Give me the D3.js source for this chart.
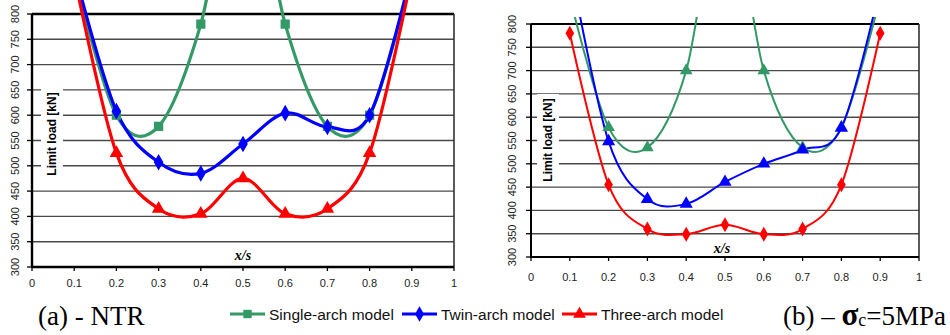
<!DOCTYPE html>
<html>
<head>
<meta charset="utf-8">
<script src="https://cdn.jsdelivr.net/npm/d3@7"></script>
<style>
  body { margin: 0; background: #fff; }
  svg { display: block; }
</style>
</head>
<body>
<svg width="950" height="335"></svg>
<script>
// x positions (x/s) of the computed points
const xs = [0.1, 0.2, 0.3, 0.4, 0.5, 0.6, 0.7, 0.8, 0.9];

// (a) NTR - values above 800 run off the top of the plot
const singleA = [880, 600, 578, 780, 1150, 780, 578, 600, 880];
const twinA   = [886, 608, 507, 485, 543, 604, 577, 600, 886];
const threeA  = [877, 525, 415, 405, 475, 405, 415, 525, 877];

// (b) sigma_c = 5MPa
const singleB = [858, 578, 535, 700, 1100, 700, 535, 578, 858];
const twinB   = [930, 548, 424, 414, 461, 500, 530, 577, 880];
const threeB  = [780, 455, 360, 349, 369, 349, 360, 455, 780];

const xTicks = [0, 0.1, 0.2, 0.3, 0.4, 0.5, 0.6, 0.7, 0.8, 0.9, 1];
const yTicks = [300, 350, 400, 450, 500, 550, 600, 650, 700, 750, 800];
const seriesNames = ["Single-arch model", "Twin-arch model", "Three-arch model"];
const colors = ["#339966", "#0000ff", "#ff0000"];

const svg = d3.select("svg");

function panel(cfg) {
  const x = d3.scaleLinear().domain([0, 1]).range([cfg.left, cfg.right]);
  const y = d3.scaleLinear().domain([300, 800]).range([cfg.bottom, cfg.top]);
  const g = svg.append("g");

  // gridlines
  g.selectAll("line.grid")
    .data(yTicks.slice(1))
    .enter().append("line")
    .attr("x1", cfg.left).attr("x2", cfg.right)
    .attr("y1", d => y(d)).attr("y2", d => y(d))
    .attr("stroke", d => d === 800 ? "#000" : "#4a4a4a")
    .attr("stroke-width", d => d === 800 ? cfg.axisW : 1.4);

  // right border
  g.append("line")
    .attr("x1", cfg.right).attr("x2", cfg.right)
    .attr("y1", cfg.top).attr("y2", cfg.bottom)
    .attr("stroke", "#333").attr("stroke-width", 1.6);

  // axis label with white box
  const lab = g.append("g").attr("transform", `translate(${cfg.labX},${cfg.labY})`);
  lab.append("rect")
    .attr("x", -46).attr("y", -11).attr("width", 92).attr("height", 22)
    .attr("transform", "rotate(-90)")
    .attr("fill", "#fff");
  lab.append("text")
    .attr("transform", "rotate(-90)")
    .attr("text-anchor", "middle")
    .attr("dy", "0.35em")
    .style("font", "bold 12px 'Liberation Sans', Arial, sans-serif")
    .text("Limit load [kN]");

  // axes lines
  g.append("line")
    .attr("x1", cfg.left).attr("x2", cfg.left)
    .attr("y1", cfg.top).attr("y2", cfg.bottom)
    .attr("stroke", "#000").attr("stroke-width", cfg.axisW);
  g.append("line")
    .attr("x1", cfg.left - 1).attr("x2", cfg.right)
    .attr("y1", cfg.bottom).attr("y2", cfg.bottom)
    .attr("stroke", "#000").attr("stroke-width", cfg.axisW);

  // y ticks
  g.selectAll("line.yt")
    .data(yTicks)
    .enter().append("line")
    .attr("x1", cfg.left - 5).attr("x2", cfg.left)
    .attr("y1", d => y(d)).attr("y2", d => y(d))
    .attr("stroke", "#000").attr("stroke-width", 1.3);
  g.selectAll("text.yl")
    .data(yTicks)
    .enter().append("text")
    .attr("transform", d => `translate(${cfg.yLabX},${y(d)}) rotate(-90)`)
    .attr("text-anchor", "middle")
    .attr("dy", "0.35em")
    .style("font", "11px 'Liberation Sans', Arial, sans-serif")
    .attr("fill", "#222")
    .text(d => d);

  // x ticks
  g.selectAll("line.xt")
    .data(xTicks)
    .enter().append("line")
    .attr("x1", d => x(d)).attr("x2", d => x(d))
    .attr("y1", cfg.bottom).attr("y2", cfg.bottom + 4)
    .attr("stroke", "#000").attr("stroke-width", 1.3);
  g.selectAll("text.xl")
    .data(xTicks)
    .enter().append("text")
    .attr("x", d => x(d))
    .attr("y", cfg.xLabY)
    .attr("text-anchor", "middle")
    .style("font", "11px 'Liberation Sans', Arial, sans-serif")
    .attr("fill", "#222")
    .text(d => d);

  // x/s
  g.append("text")
    .attr("x", cfg.xsX).attr("y", cfg.xsY)
    .attr("text-anchor", "middle")
    .style("font", "italic bold 14px 'Liberation Serif', 'Times New Roman', serif")
    .text("x/s");

  // clip: curves run a little above the plot top
  const clipId = "clip" + cfg.id;
  svg.append("clipPath").attr("id", clipId)
    .append("rect")
    .attr("x", cfg.left).attr("y", cfg.clipTop)
    .attr("width", cfg.right - cfg.left).attr("height", cfg.bottom - cfg.clipTop);

  const line = d3.line()
    .x((d, i) => x(xs[i]))
    .y(d => y(d))
    .curve(d3.curveCardinal.tension(0));

  const cg = g.append("g").attr("clip-path", `url(#${clipId})`);
  cfg.series.forEach((vals, si) => {
    cg.append("path")
      .attr("d", line(vals))
      .attr("fill", "none")
      .attr("stroke", colors[si])
      .attr("stroke-width", cfg.lineW);
  });
  cfg.series.forEach((vals, si) => {
    const pts = vals.map((v, i) => ({ x: xs[i], v: v })).filter(p => p.v <= 800);
    cg.selectAll(null)
      .data(pts)
      .enter().append("path")
      .attr("transform", p => `translate(${x(p.x)},${y(p.v)})`)
      .attr("d", d3.symbol().type(cfg.symbols[si]).size(cfg.symSize[si]))
      .attr("fill", colors[si]);
  });
}

panel({
  id: "a", left: 32, right: 454, top: 14, bottom: 267, clipTop: 0,
  axisW: 2.4, lineW: 3.2,
  labX: 52, labY: 134, yLabX: 15, xLabY: 287, xsX: 243, xsY: 260,
  series: [singleA, twinA, threeA],
  symbols: [d3.symbolSquare, d3.symbolDiamond, d3.symbolTriangle],
  symSize: [85, 80, 80]
});

panel({
  id: "b", left: 531, right: 919, top: 24, bottom: 257, clipTop: 17,
  axisW: 2, lineW: 2,
  labX: 548, labY: 140, yLabX: 512, xLabY: 281, xsX: 722, xsY: 253,
  series: [singleB, twinB, threeB],
  symbols: [d3.symbolTriangle, d3.symbolTriangle, d3.symbolDiamond],
  symSize: [70, 75, 65]
});

// legend
const legX = [230, 402, 562];
const leg = svg.append("g");
seriesNames.forEach((name, i) => {
  const sym = [d3.symbolSquare, d3.symbolDiamond, d3.symbolTriangle][i];
  leg.append("line")
    .attr("x1", legX[i]).attr("x2", legX[i] + 35)
    .attr("y1", 314).attr("y2", 314)
    .attr("stroke", colors[i]).attr("stroke-width", 3);
  leg.append("path")
    .attr("transform", `translate(${legX[i] + 17.5},314)`)
    .attr("d", d3.symbol().type(sym).size(70))
    .attr("fill", colors[i]);
  leg.append("text")
    .attr("x", legX[i] + 39).attr("y", 319.5)
    .style("font", "15.5px 'Liberation Sans', Arial, sans-serif")
    .attr("fill", "#111")
    .text(name);
});

// captions
svg.append("text")
  .attr("x", 38).attr("y", 325)
  .style("font", "27px 'Liberation Serif', 'Times New Roman', serif")
  .text("(a) - NTR");

const cap = svg.append("text")
  .attr("x", 783).attr("y", 325)
  .style("font", "27px 'Liberation Serif', 'Times New Roman', serif");
cap.append("tspan").text("(b) \u2013 ");
cap.append("tspan").style("font-weight", "bold").style("font-size", "31px").text("\u03c3");
cap.append("tspan").style("font-size", "18px").attr("dy", 1).text("c");
cap.append("tspan").attr("dy", -1).text("=5MPa");
</script>
</body>
</html>
